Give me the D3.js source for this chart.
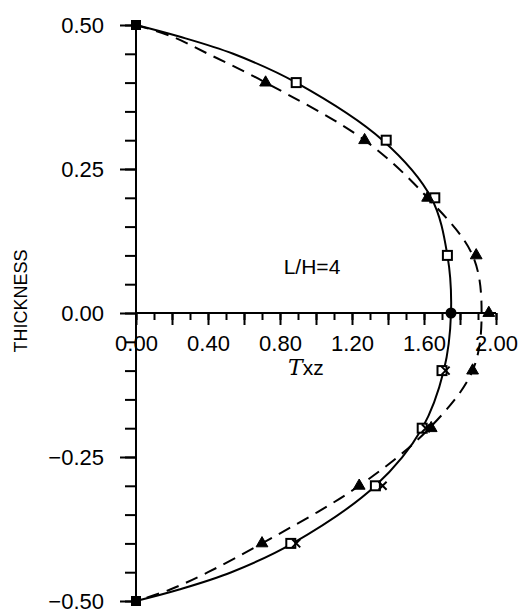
<!DOCTYPE html>
<html>
<head>
<meta charset="utf-8">
<script src="https://cdn.jsdelivr.net/npm/d3@7"></script>
<style>
  html, body { margin: 0; padding: 0; background: #fff; }
  svg { display: block; font-family: "Liberation Sans", Arial, sans-serif; }
</style>
</head>
<body>
<svg id="chart" width="519" height="609"></svg>
<script>
// Through-thickness distribution of the transverse shear stress, L/H = 4
const curveT = [0.5, 0.48, 0.45, 0.4, 0.3, 0.2, 0.1, 0.0, -0.1, -0.2, -0.3, -0.4, -0.45, -0.48, -0.5];

// curve values (solid and dashed) at each thickness level
const solidCurve  = [0, 0.24, 0.54, 0.89, 1.37, 1.64, 1.73, 1.75, 1.71, 1.59, 1.33, 0.87, 0.53, 0.24, 0];
const dashedCurve = [0, 0.20, 0.40, 0.72, 1.27, 1.62, 1.87, 1.92, 1.87, 1.63, 1.24, 0.70, 0.40, 0.19, 0];

// marker series
const squareT   = [0.4, 0.3, 0.2, 0.1, -0.1, -0.2, -0.3, -0.4];
const squareV   = [0.89, 1.39, 1.66, 1.73, 1.70, 1.59, 1.33, 0.86];
const triangleT = [0.4, 0.3, 0.2, 0.1, 0.0, -0.1, -0.2, -0.3, -0.4];
const triangleV = [0.72, 1.27, 1.62, 1.89, 1.96, 1.87, 1.64, 1.24, 0.70];
const crossT    = [-0.1, -0.2, -0.3, -0.4];
const crossV    = [1.72, 1.61, 1.37, 0.89];
const endT      = [0.5, -0.5];
const endV      = [0, 0];
const peakT     = [0.0];
const peakV     = [1.75];

const xTickLabels = [0, 0.4, 0.8, 1.2, 1.6, 2.0];
const yTickLabels = [0.5, 0.25, 0, -0.25, -0.5];
const xTitle = "Txz";
const yTitle = "THICKNESS";
const note = "L/H=4";

const svg = d3.select("#chart");
const plotLeft = 136, plotRight = 496, plotTop = 25, plotBottom = 601;

const x = d3.scaleLinear().domain([0, 2]).range([plotLeft, plotRight]);
const y = d3.scaleLinear().domain([-0.5, 0.5]).range([plotBottom, plotTop]);

const ink = "#000";
const fontSize = 22;

// ---- y axis (vertical line at x = 0) ----
const yMinor = d3.range(-0.5, 0.5001, 0.05).map(v => +v.toFixed(2));
svg.append("g")
  .attr("transform", `translate(${x(0)},0)`)
  .call(d3.axisLeft(y).tickValues(yMinor).tickSize(11).tickFormat(""))
  .call(g => g.select(".domain").remove());
const yAxis = svg.append("g")
  .attr("transform", `translate(${x(0)},0)`)
  .call(d3.axisLeft(y).tickValues(yTickLabels).tickSize(16).tickPadding(16)
        .tickFormat(d3.format(".2f")));
yAxis.select(".domain").remove();
yAxis.selectAll("text").attr("font-size", fontSize).attr("font-family", "Liberation Sans, Arial, sans-serif");
svg.append("line")
  .attr("x1", x(0)).attr("x2", x(0)).attr("y1", y(0.5)).attr("y2", y(-0.5));

// ---- x axis (horizontal line at thickness 0) ----
const xMinor = d3.range(0, 2.0001, 0.1).map(v => +v.toFixed(1));
const xMajor = d3.range(0, 2.0001, 0.2).map(v => +v.toFixed(1));
svg.append("g")
  .attr("transform", `translate(0,${y(0)})`)
  .call(d3.axisBottom(x).tickValues(xMinor).tickSize(7).tickFormat(""))
  .call(g => g.select(".domain").remove());
svg.append("g")
  .attr("transform", `translate(0,${y(0)})`)
  .call(d3.axisBottom(x).tickValues(xMajor).tickSize(12).tickFormat(""))
  .call(g => g.select(".domain").remove());
const xAxis = svg.append("g")
  .attr("transform", `translate(0,${y(0)})`)
  .call(d3.axisBottom(x).tickValues(xTickLabels).tickSize(0).tickPadding(22)
        .tickFormat(d3.format(".2f")));
xAxis.select(".domain").remove();
xAxis.selectAll("text").attr("font-size", fontSize).attr("font-family", "Liberation Sans, Arial, sans-serif");
svg.append("line")
  .attr("x1", x(0)).attr("x2", x(2)).attr("y1", y(0)).attr("y2", y(0));

svg.selectAll("line, path.domain").attr("stroke", ink).attr("stroke-width", 2);

// ---- curves ----
const line = d3.line()
  .x(d => x(d[0])).y(d => y(d[1]))
  .curve(d3.curveCatmullRom.alpha(0.5));

svg.append("path")
  .datum(solidCurve.map((v, i) => [v, curveT[i]]))
  .attr("d", line)
  .attr("fill", "none").attr("stroke", ink).attr("stroke-width", 2);

svg.append("path")
  .datum(dashedCurve.map((v, i) => [v, curveT[i]]))
  .attr("d", line)
  .attr("fill", "none").attr("stroke", ink).attr("stroke-width", 2)
  .attr("stroke-dasharray", "13,8");

// ---- markers ----
const marks = svg.append("g");
marks.selectAll(".sq").data(squareV.map((v, i) => [v, squareT[i]]))
  .join("rect")
  .attr("x", d => x(d[0]) - 4.5).attr("y", d => y(d[1]) - 4.5)
  .attr("width", 9).attr("height", 9)
  .attr("fill", "#fff").attr("stroke", ink).attr("stroke-width", 2);

marks.selectAll(".cr").data(crossV.map((v, i) => [v, crossT[i]]))
  .join("path")
  .attr("d", d => {
    const cx = x(d[0]), cy = y(d[1]), r = 4;
    return `M${cx - r},${cy - r}L${cx + r},${cy + r}M${cx - r},${cy + r}L${cx + r},${cy - r}`;
  })
  .attr("fill", "none").attr("stroke", ink).attr("stroke-width", 2);

const tri = d3.symbol().type(d3.symbolTriangle).size(60);
marks.selectAll(".tr").data(triangleV.map((v, i) => [v, triangleT[i]]))
  .join("path")
  .attr("transform", d => `translate(${x(d[0])},${y(d[1])})`)
  .attr("d", tri)
  .attr("fill", ink).attr("stroke", ink).attr("stroke-width", 1);

marks.selectAll(".en").data(endV.map((v, i) => [v, endT[i]]))
  .join("rect")
  .attr("x", d => x(d[0]) - 5).attr("y", d => y(d[1]) - 5)
  .attr("width", 10).attr("height", 10)
  .attr("fill", ink);

marks.selectAll(".pk").data(peakV.map((v, i) => [v, peakT[i]]))
  .join("circle")
  .attr("cx", d => x(d[0])).attr("cy", d => y(d[1]))
  .attr("r", 5.5).attr("fill", ink);

// ---- titles ----
svg.append("text")
  .attr("transform", `translate(27,${y(0) - 12}) rotate(-90)`)
  .attr("text-anchor", "middle")
  .attr("font-size", 18)
  .attr("fill", ink)
  .text(yTitle);

svg.append("text")
  .attr("x", 312).attr("y", 274)
  .attr("text-anchor", "middle")
  .attr("font-size", 21)
  .attr("fill", ink)
  .text(note);

const xt = svg.append("text")
  .attr("x", 288).attr("y", 375)
  .attr("font-size", 21)
  .attr("fill", ink);
xt.append("tspan")
  .attr("font-family", "DejaVu Serif, serif")
  .attr("font-style", "italic")
  .attr("font-size", 22)
  .text(xTitle.charAt(0));
xt.append("tspan").text(xTitle.slice(1));
</script>
</body>
</html>
